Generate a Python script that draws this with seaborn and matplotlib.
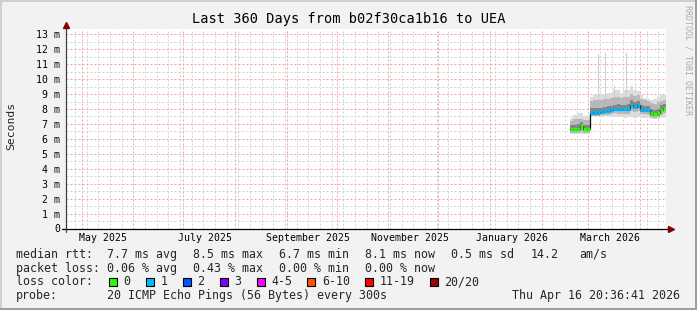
import numpy as np
import pandas as pd
import matplotlib
matplotlib.use("Agg")
import matplotlib.pyplot as plt
import matplotlib.dates as mdates
from matplotlib.patches import Rectangle
from matplotlib.ticker import MultipleLocator, FixedLocator, NullFormatter
import matplotlib.transforms as mtrans
import seaborn as sns

# ---------------- data ----------------
range_start = "2025-04-21 20:36:41"
range_end = "2026-04-16 20:36:41"

bin_dates = ["2026-02-18", "2026-02-20", "2026-02-22", "2026-02-24", "2026-02-26",
             "2026-02-28", "2026-03-02", "2026-03-04", "2026-03-06", "2026-03-08",
             "2026-03-10", "2026-03-12", "2026-03-14", "2026-03-16", "2026-03-18",
             "2026-03-20", "2026-03-22", "2026-03-24", "2026-03-26", "2026-03-28",
             "2026-03-30", "2026-04-01", "2026-04-03", "2026-04-05", "2026-04-07",
             "2026-04-09", "2026-04-11", "2026-04-13", "2026-04-15"]

median_ms = [6.66, 6.66, 6.66, 6.88, 6.66, 6.66, 7.76, 7.77, 7.78, 7.80,
             7.86, 7.88, 7.94, 8.02, 8.00, 8.00, 8.00, 8.00, 8.30, 8.14,
             8.28, 7.98, 7.96, 7.93, 7.70, 7.68, 7.70, 7.96, 8.10]

loss_count = [0, 0, 0, 0, 0, 0, 1, 1, 1, 1,
              1, 1, 1, 1, 1, 1, 1, 1, 1, 1,
              1, 1, 1, 1, 0, 0, 0, 0, 0]

smoke_min = [6.35, 6.33, 6.35, 6.36, 6.34, 6.35, 7.50, 7.52, 7.50, 7.48,
             7.50, 7.46, 7.45, 7.44, 7.45, 7.44, 7.43, 7.44, 7.45, 7.43,
             7.44, 7.42, 7.40, 7.38, 7.33, 7.32, 7.34, 7.38, 7.42]
smoke_p10 = [6.42, 6.41, 6.42, 6.45, 6.42, 6.42, 7.55, 7.56, 7.56, 7.57,
             7.60, 7.60, 7.64, 7.70, 7.68, 7.68, 7.67, 7.68, 7.85, 7.80,
             7.85, 7.68, 7.66, 7.63, 7.45, 7.43, 7.45, 7.60, 7.72]
smoke_p25 = [6.51, 6.51, 6.51, 6.70, 6.51, 6.51, 7.61, 7.62, 7.63, 7.65,
             7.71, 7.73, 7.79, 7.87, 7.85, 7.85, 7.85, 7.85, 8.12, 7.99,
             8.10, 7.83, 7.81, 7.78, 7.55, 7.53, 7.55, 7.81, 7.95]
smoke_p75 = [6.92, 6.95, 6.98, 7.10, 6.95, 6.94, 8.05, 8.08, 8.06, 8.10,
             8.15, 8.18, 8.22, 8.30, 8.32, 8.28, 8.30, 8.31, 8.58, 8.45,
             8.55, 8.26, 8.22, 8.20, 7.98, 7.95, 7.98, 8.25, 8.36]
smoke_p90 = [7.20, 7.30, 7.32, 7.35, 7.25, 7.28, 8.55, 8.58, 8.60, 8.62,
             8.65, 8.70, 8.72, 8.78, 8.80, 8.75, 8.80, 8.82, 9.00, 8.90,
             8.95, 8.70, 8.60, 8.55, 8.40, 8.35, 8.45, 8.55, 8.62]
smoke_max = [7.42, 7.62, 7.70, 7.72, 7.55, 7.60, 8.82, 8.92, 8.95, 9.00,
             9.02, 9.05, 9.08, 9.30, 9.25, 9.10, 9.28, 9.25, 9.55, 9.30,
             9.20, 8.93, 8.75, 8.65, 8.60, 8.70, 8.82, 8.93, 8.93]

spike_dates = ["2026-03-06 18:00", "2026-03-11 00:00", "2026-03-16 06:00", "2026-03-23 14:00"]
spike_tops = [11.7, 11.8, 9.6, 11.8]

ytick_values = list(range(0, 14))
ytick_labels = ["0"] + [f"{v} m" for v in range(1, 14)]

month_label_dates = ["2025-05-14", "2025-07-14", "2025-09-14", "2025-11-14", "2026-01-14", "2026-03-14"]
month_labels = ["May 2025", "July 2025", "September 2025", "November 2025", "January 2026", "March 2026"]

loss_levels = ["0", "1", "2", "3", "4-5", "6-10", "11-19", "20/20"]
loss_colors = ["#26ff00", "#00b8ff", "#0059ff", "#7e00ff", "#ff00ff", "#ff5500", "#ff0000", "#a10000"]

title = "Last 360 Days from b02f30ca1b16 to UEA"
legend_rtt = ["median rtt:", "7.7 ms avg", "8.5 ms max", "6.7 ms min", "8.1 ms now", "0.5 ms sd", "14.2", "am/s"]
legend_loss = ["packet loss:", "0.06 % avg", "0.43 % max", "0.00 % min", "0.00 % now"]
probe_text = "20 ICMP Echo Pings (56 Bytes) every 300s"
stamp_text = "Thu Apr 16 20:36:41 2026"

# ---------------- style ----------------
W, H, DPI = 697, 310, 100
sns.set_style("white")
plt.rcParams['font.family'] = ['DejaVu Sans Mono', 'DejaVu Sans']
plt.rcParams['lines.scale_dashes'] = False

BACK = '#f2f2f2'
fig = plt.figure(figsize=(W / DPI, H / DPI), dpi=DPI, facecolor=BACK)


def fx(x):
    return x / W


def fy(y):
    return 1 - y / H


# frame shades
for (x0, y0, w, h, c) in [(0, 0, W, 2, '#cfcfcf'), (0, 0, 2, H, '#cfcfcf'),
                          (0, H - 2, W, 2, '#9e9e9e'), (W - 2, 0, 2, H, '#9e9e9e')]:
    fig.patches.append(Rectangle((fx(x0), fy(y0 + h)), w / W, h / H,
                                 transform=fig.transFigure, color=c, lw=0, zorder=0))

L, T, PW, PH = 66.4, 28.5, 600, 200
ax = fig.add_axes([fx(L), fy(T + PH), PW / W, PH / H])
ax.set_facecolor('white')

t0 = pd.Timestamp(range_start)
t1 = pd.Timestamp(range_end)
ax.set_xlim(t0, t1)
ax.set_ylim(0, 13.39)

x_edges = pd.to_datetime(bin_dates + [range_end], format='mixed')


def ext(a):
    return np.array(a + [a[-1]], dtype=float)


# smoke
ax.fill_between(x_edges, ext(smoke_min), ext(smoke_max), step='post', color='#dcdcdc', lw=0, zorder=2)
ax.vlines(pd.to_datetime(spike_dates), 8.5, spike_tops, color='#d0d0d0', lw=0.8, zorder=2)
ax.fill_between(x_edges, ext(smoke_p10), ext(smoke_p90), step='post', color='#b8b8b8', lw=0, zorder=3)
ax.fill_between(x_edges, ext(smoke_p25), ext(smoke_p75), step='post', color='#858585', lw=0, zorder=4)

# median line
med_df = pd.DataFrame({"time": x_edges, "median": ext(median_ms)})
sns.lineplot(data=med_df, x="time", y="median", drawstyle='steps-post', estimator=None,
             color='#101010', lw=0.9, ax=ax, zorder=5)
seg_colors = [loss_colors[l] for l in loss_count]
ax.hlines(median_ms, x_edges[:-1], x_edges[1:], colors=seg_colors, lw=2.4, zorder=6)

ax.set_xlabel('')
ax.set_ylabel('')

# grid (dotted)
grid_red = '#f0a4a4'
grid_gray = '#d2d2d2'
dash = (0, (1.44, 1.44))
ax.xaxis.set_major_locator(mdates.MonthLocator())
ax.xaxis.set_minor_locator(mdates.WeekdayLocator(byweekday=mdates.SU))
ax.xaxis.set_major_formatter(NullFormatter())
ax.yaxis.set_major_locator(FixedLocator(ytick_values))
ax.yaxis.set_minor_locator(MultipleLocator(0.5))
ax.set_yticklabels(ytick_labels)
ax.grid(which='minor', color=grid_gray, lw=0.72, linestyle=dash)
ax.grid(which='major', color=grid_red, lw=0.72, linestyle=dash)
ax.set_axisbelow(True)
ax.tick_params(axis='y', which='both', length=0, pad=4.6, labelsize=7.1, colors='#000000')
ax.tick_params(axis='x', which='major', length=2.5, width=0.72, color='#e08080', direction='out')
ax.tick_params(axis='x', which='minor', length=1.5, width=0.72, color='#a0a0a0', direction='out')
for s in ax.spines.values():
    s.set_visible(False)

# axis lines and arrows
ax.plot([-4 / PW, 1 + 4 / PW], [0, 0], transform=ax.transAxes, color='#000000', lw=0.9,
        clip_on=False, zorder=7)
ax.plot([0, 0], [-3 / PH, 1 + 2 / PH], transform=ax.transAxes, color='#404040', lw=0.9,
        clip_on=False, zorder=7)
ax.plot([1 + 5 / PW], [0], marker='>', ms=4.2, color='#800000', transform=ax.transAxes,
        clip_on=False, zorder=8)
ax.plot([0], [1 + 4 / PH], marker='^', ms=4.2, color='#800000', transform=ax.transAxes,
        clip_on=False, zorder=8)

# month labels
btrans = mtrans.blended_transform_factory(ax.transData, ax.transAxes)
for d, lab in zip(month_label_dates, month_labels):
    ax.text(mdates.date2num(pd.Timestamp(d)), -9.3 / PH, lab, transform=btrans,
            ha='center', va='center', fontsize=7.1, color='black')

# texts
fig.text(fx(348.5), fy(19), title, ha='center', va='center', fontsize=9.8, color='black')
fig.text(fx(10.8), fy(126), "Seconds", rotation=90, ha='center', va='center', fontsize=8.2)
fig.text(fx(688), fy(5), "RRDTOOL / TOBI OETIKER", rotation=270, ha='center', va='top',
         fontsize=6.0, color='#ababab')

LS = 8.4
row1_x = [16, 107.3, 193.3, 279.3, 365, 451, 530.7, 579]
for x, s in zip(row1_x, legend_rtt):
    fig.text(fx(x), fy(254.3), s, ha='left', va='center', fontsize=LS)
row2_x = [16, 107.3, 193.3, 279.3, 365]
for x, s in zip(row2_x, legend_loss):
    fig.text(fx(x), fy(268.3), s, ha='left', va='center', fontsize=LS)
fig.text(fx(16), fy(281.7), "loss color:", ha='left', va='center', fontsize=LS)
box_x = [108.7, 146, 182.7, 219.7, 256.7, 307.3, 365, 430]
for x, lab, c in zip(box_x, loss_levels, loss_colors):
    fig.patches.append(Rectangle((fx(x), fy(286)), 8 / W, 8 / H, transform=fig.transFigure,
                                 facecolor=c, edgecolor='black', lw=0.8))
    fig.text(fx(x + 14.5), fy(281.7), lab, ha='left', va='center', fontsize=LS)
fig.text(fx(16), fy(295.7), "probe:", ha='left', va='center', fontsize=LS)
fig.text(fx(107.3), fy(295.7), probe_text, ha='left', va='center', fontsize=LS)
fig.text(fx(680), fy(295.7), stamp_text, ha='right', va='center', fontsize=LS)

fig.savefig("out.png", dpi=DPI, facecolor=BACK)
